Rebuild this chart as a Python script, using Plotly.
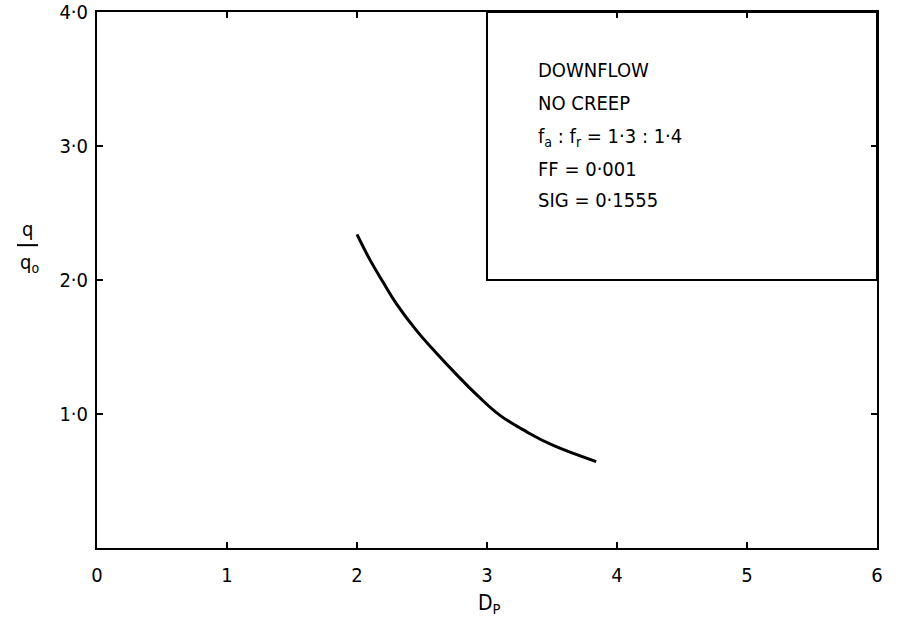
import plotly.graph_objects as go

# Curve data (D_P vs q/q_o)
dp = [2.00, 2.10, 2.20, 2.305, 2.46, 2.61, 2.77, 2.93, 3.10, 3.305, 3.51, 3.84]
qq = [2.34, 2.15, 1.985, 1.82, 1.62, 1.455, 1.29, 1.135, 0.99, 0.867, 0.765, 0.645]

x_ticks = [0, 1, 2, 3, 4, 5, 6]
x_ticklabels = ["0", "1", "2", "3", "4", "5", "6"]
y_ticks = [1, 2, 3, 4]
y_ticklabels = ["1·0", "2·0", "3·0", "4·0"]

box_lines = [
    "DOWNFLOW",
    "NO CREEP",
    "f<sub>a</sub> : f<sub>r</sub> = 1·3 : 1·4",
    "FF = 0·001",
    "SIG = 0·1555",
]

FONT = "DejaVu Sans Condensed, DejaVu Sans"

fig = go.Figure()
fig.add_trace(go.Scatter(x=dp, y=qq, mode="lines", line=dict(color="black", width=3, shape="spline", smoothing=1.2),
                         showlegend=False, hoverinfo="skip"))

fig.add_shape(type="rect", x0=3, x1=6, y0=2, y1=4, xref="x", yref="y",
              line=dict(color="black", width=2), fillcolor="rgba(0,0,0,0)")

y_positions = [3.565, 3.32, 3.07, 2.83, 2.60]
for txt, yp in zip(box_lines, y_positions):
    fig.add_annotation(x=3.38, y=yp, xref="x", yref="y", text=txt, showarrow=False,
                       xanchor="left", yanchor="middle",
                       font=dict(family=FONT, size=20, color="black"))

axis_common = dict(showline=True, linecolor="black", linewidth=2, mirror="ticks",
                   ticks="inside", ticklen=6, tickwidth=1.5, tickcolor="black",
                   showgrid=False, zeroline=False, automargin=False,
                   tickfont=dict(family=FONT, size=20, color="black"))

fig.update_layout(
    width=899, height=631,
    margin=dict(l=97, r=22, t=12, b=83),
    paper_bgcolor="white", plot_bgcolor="white",
    xaxis=dict(range=[0, 6], tickvals=x_ticks, ticktext=x_ticklabels, ticklabelstandoff=8, **axis_common),
    yaxis=dict(range=[0, 4], tickvals=y_ticks, ticktext=y_ticklabels, ticklabelstandoff=3, **axis_common),
)

# x title D_P
fig.add_annotation(x=3.02, y=-0.105, xref="x", yref="paper", text="D<sub>P</sub>", showarrow=False,
                   xanchor="center", yanchor="middle", font=dict(family=FONT, size=21, color="black"))

# y title q / q_o as stacked fraction
fig.add_annotation(x=-0.089, y=2.38, xref="paper", yref="y", text="q", showarrow=False,
                   xanchor="center", yanchor="middle", font=dict(family=FONT, size=20, color="black"))
fig.add_annotation(x=-0.087, y=2.13, xref="paper", yref="y", text="q<sub>o</sub>", showarrow=False,
                   xanchor="center", yanchor="middle", font=dict(family=FONT, size=20, color="black"))
fig.add_shape(type="line", xref="paper", yref="y", x0=-0.1026, x1=-0.0756, y0=2.26, y1=2.26,
              line=dict(color="black", width=2))

fig.write_html("out.html")
